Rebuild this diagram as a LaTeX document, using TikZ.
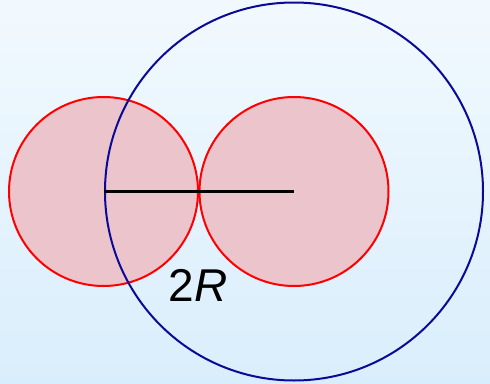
\documentclass[tikz,border=0pt]{standalone}
\usepackage{fontspec}
\setmainfont{Liberation Sans}
\usetikzlibrary{positioning}

\definecolor{bgtop}{RGB}{242,249,254}
\definecolor{bgbottom}{RGB}{217,238,252}
\definecolor{ballfill}{RGB}{236,196,203}
\definecolor{ringblue}{RGB}{10,10,150}

\begin{document}
\begin{tikzpicture}[
    x=1pt, y=-1pt,
    % Shapes
    ball/.style={circle, draw=red, fill=ballfill, line width=2pt, minimum size=189pt, inner sep=0pt},
    ring/.style={circle, draw=ringblue, line width=2pt, minimum size=378pt, inner sep=0pt},
    % Connectors
    line/.style={line width=2.2pt, draw=black},
]

% Background
\fill[top color=bgtop, bottom color=bgbottom] (0,0) rectangle (490,383);
\useasboundingbox (0,0) rectangle (490,383);

% Red balls
\node[ball] (leftball) at (103.5,191.5) {};
\node[ball] (rightball) at (294,191.5) {};

% Blue ring round the right ball
\node[ring] (ring) at (rightball.center) {};

% Distance between the centres
\draw[line] (leftball.center) -- (rightball.center);
\node[font=\fontsize{46}{50}\selectfont] (dist) at (198,285) {2\textit{R}};

\end{tikzpicture}
\end{document}
